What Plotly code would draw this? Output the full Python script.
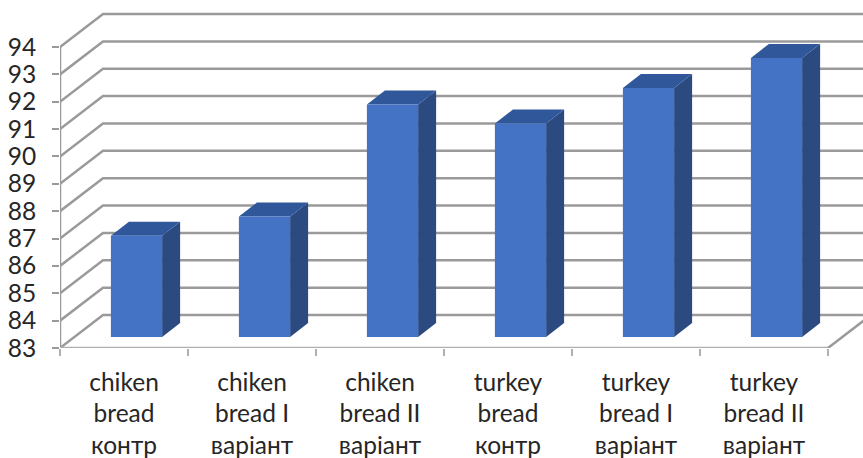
import plotly.graph_objects as go

# ---- data ----
categories = [
    "chiken<br>bread<br>контр",
    "chiken<br>bread I<br>варіант",
    "chiken<br>bread II<br>варіант",
    "turkey<br>bread<br>контр",
    "turkey<br>bread I<br>варіант",
    "turkey<br>bread II<br>варіант",
]
values = [86.7, 87.4, 91.5, 90.8, 92.1, 93.2]
y_ticks = list(range(83, 95))

# ---- pseudo-3D geometry (in axis units) ----
Y0 = 83.0
PX_PER_CAT = 128.0
PX_PER_VAL = 27.36
DX = 43 / PX_PER_CAT          # depth shift of back wall (x)
DY = 33 / PX_PER_VAL          # depth shift of back wall (y)
SX0 = 12.5 / PX_PER_CAT       # bar front-plane shift
SY0 = 11 / PX_PER_VAL
SXD = 18 / PX_PER_CAT         # bar depth
SYD = 14 / PX_PER_VAL
BW = 0.4                      # bar width
XMAX = -0.5 + 803 / PX_PER_CAT
YMAX = Y0 + 348 / PX_PER_VAL

GRID = "#9a9a9a"
FRONT = "#4472C4"
TOP = "#31579b"
SIDE = "#2b4a80"

fig = go.Figure()

# back wall gridlines (oblique + horizontal)
for v in y_ticks:
    fig.add_trace(go.Scatter(
        x=[-0.5, -0.5 + DX, XMAX + 1], y=[v, v + DY, v + DY],
        mode="lines", line=dict(color=GRID, width=2.5),
        hoverinfo="skip", showlegend=False))

# floor right edge
n = len(categories)
fig.add_trace(go.Scatter(
    x=[n - 0.5, n - 0.5 + DX], y=[Y0, Y0 + DY], mode="lines",
    line=dict(color=GRID, width=2.5), hoverinfo="skip", showlegend=False))

# front vertical axis line
fig.add_trace(go.Scatter(
    x=[-0.5, -0.5], y=[Y0, y_ticks[-1]], mode="lines",
    line=dict(color=GRID, width=2.5), hoverinfo="skip", showlegend=False))

# floor front edge (on tick axis)
fig.add_trace(go.Scatter(
    x=[-0.5, n - 0.5], y=[Y0, Y0], mode="lines", xaxis="x2",
    line=dict(color="#b0b0b0", width=2.5), hoverinfo="skip", showlegend=False))

# bars
for i, v in enumerate(values):
    xl = i + SX0 - BW / 2
    xr = i + SX0 + BW / 2
    b = Y0 + SY0
    t = v + SY0
    # side face
    fig.add_trace(go.Scatter(
        x=[xr, xr, xr + SXD, xr + SXD, xr], y=[b, t, t + SYD, b + SYD, b],
        fill="toself", fillcolor=SIDE, mode="lines", line=dict(width=0, color=SIDE),
        hoverinfo="skip", showlegend=False))
    # top face
    fig.add_trace(go.Scatter(
        x=[xl, xr, xr + SXD, xl + SXD, xl], y=[t, t, t + SYD, t + SYD, t],
        fill="toself", fillcolor=TOP, mode="lines", line=dict(width=0, color=TOP),
        hoverinfo="skip", showlegend=False))
    # front face
    fig.add_trace(go.Scatter(
        x=[xl, xr, xr, xl, xl], y=[b, b, t, t, b],
        fill="toself", fillcolor=FRONT, mode="lines", line=dict(width=0, color=FRONT),
        hoverinfo="skip", showlegend=False))

font = dict(family="Lato", size=24.5, color="#262626")

fig.update_layout(
    width=863, height=458,
    margin=dict(l=60, r=0, t=0, b=110),
    paper_bgcolor="white", plot_bgcolor="white",
    showlegend=False,
    xaxis=dict(range=[-0.5, XMAX], tickmode="array", tickvals=list(range(n)),
               ticktext=categories, ticks="", showline=False, showgrid=False,
               zeroline=False, tickfont=font, ticklabelstandoff=17, fixedrange=True),
    xaxis2=dict(overlaying="x", matches="x", range=[-0.5, XMAX], tickmode="array",
                tickvals=[k - 0.5 for k in range(n + 1)], ticks="outside", ticklen=7,
                tickwidth=2, tickcolor="#b0b0b0", showticklabels=False, showline=False,
                showgrid=False, zeroline=False, side="bottom"),
    yaxis=dict(range=[Y0, YMAX], tickmode="array", tickvals=y_ticks,
               ticks="outside", ticklen=7, tickwidth=2, tickcolor=GRID,
               showline=False, showgrid=False, zeroline=False, tickfont=font,
               ticklabelstandoff=11, fixedrange=True),
)

fig.write_html("out.html")
